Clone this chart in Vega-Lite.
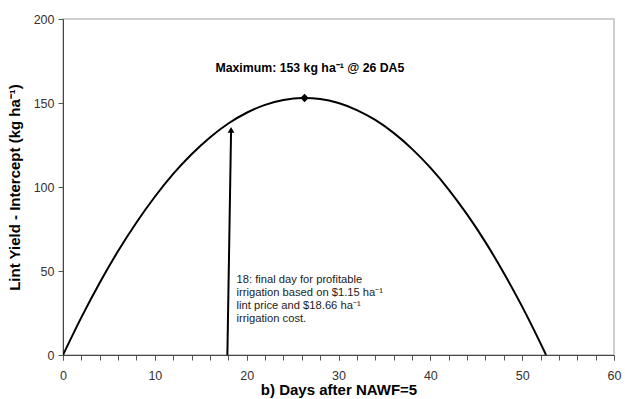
{
  "$schema": "https://vega.github.io/schema/vega-lite/v6.json",
  "width": 551,
  "height": 336,
  "autosize": {"type": "none"},
  "padding": {"left": 63, "top": 19, "right": 11, "bottom": 44},
  "background": "white",
  "config": {
    "view": {"stroke": "#bfbfbf", "strokeWidth": 1.5},
    "font": "Liberation Sans",
    "axis": {"grid": false, "labelFont": "Liberation Sans", "titleFont": "Liberation Sans", "labelFontSize": 12.5, "labelColor": "#333333", "domainColor": "#444444", "tickColor": "#555555", "titleColor": "#000000", "titleFontSize": 15, "titleFontWeight": "bold"}
  },
  "resolve": {"axis": {"x": "independent"}},
  "datasets": {
    "curve": [
      {"day": 0, "yield": 0},
      {"day": 2, "yield": 22.4},
      {"day": 4, "yield": 43.0},
      {"day": 6, "yield": 61.9},
      {"day": 8, "yield": 78.9},
      {"day": 10, "yield": 94.2},
      {"day": 12, "yield": 107.8},
      {"day": 14, "yield": 119.5},
      {"day": 16, "yield": 129.5},
      {"day": 18, "yield": 137.8},
      {"day": 20, "yield": 144.2},
      {"day": 22, "yield": 148.9},
      {"day": 24, "yield": 151.8},
      {"day": 26, "yield": 153.0},
      {"day": 26.3, "yield": 153.0},
      {"day": 28, "yield": 152.4},
      {"day": 30, "yield": 150.0},
      {"day": 32, "yield": 145.8},
      {"day": 34, "yield": 139.9},
      {"day": 36, "yield": 132.2},
      {"day": 38, "yield": 122.7},
      {"day": 40, "yield": 111.5},
      {"day": 42, "yield": 98.5},
      {"day": 44, "yield": 83.7},
      {"day": 46, "yield": 67.2},
      {"day": 48, "yield": 48.8},
      {"day": 50, "yield": 28.8},
      {"day": 52, "yield": 6.9},
      {"day": 52.6, "yield": 0}
    ],
    "peak": [{"day": 26.3, "yield": 153}],
    "arrow": [{"x1": 17.9, "y1": 0, "x2": 18.3, "y2": 133}],
    "head": [{"day": 18.3, "yield": 134}],
    "maxlabel": [{"day": 16.6, "yield": 171, "label": "Maximum: 153 kg ha⁻¹ @ 26 DA5"}],
    "note": [
      {"day": 18.9, "yield": 44.5, "label": "18: final day for profitable"},
      {"day": 18.9, "yield": 36.9, "label": "irrigation based on $1.15 ha⁻¹"},
      {"day": 18.9, "yield": 29.3, "label": "lint price and $18.66 ha⁻¹"},
      {"day": 18.9, "yield": 21.7, "label": "irrigation cost."}
    ]
  },
  "layer": [
    {
      "data": {"name": "curve"},
      "mark": {"type": "point", "opacity": 0},
      "encoding": {
        "x": {"field": "day", "type": "quantitative", "scale": {"domain": [0, 60], "nice": false}, "axis": {"orient": "bottom", "title": null, "values": [0,2,4,6,8,10,12,14,16,18,20,22,24,26,28,30,32,34,36,38,40,42,44,46,48,50,52,54,56,58,60], "labels": false, "domain": false, "tickSize": 5}},
        "y": {"field": "yield", "type": "quantitative", "scale": {"domain": [0, 200], "nice": false}, "axis": {"title": "Lint Yield - Intercept (kg ha⁻¹)", "values": [0, 50, 100, 150, 200], "tickSize": 5, "labelPadding": 4, "titlePadding": 11}}
      }
    },
    {
      "data": {"name": "curve"},
      "mark": {"type": "line", "color": "black", "strokeWidth": 2, "interpolate": "monotone", "clip": true},
      "encoding": {
        "x": {"field": "day", "type": "quantitative", "scale": {"domain": [0, 60], "nice": false}, "axis": {"orient": "bottom", "title": "b) Days after NAWF=5", "values": [0, 10, 20, 30, 40, 50, 60], "labelOverlap": false, "tickSize": 5, "labelPadding": 9, "titlePadding": 1, "labelFlush": false}},
        "y": {"field": "yield", "type": "quantitative"}
      }
    },
    {
      "data": {"name": "peak"},
      "mark": {"type": "point", "shape": "diamond", "filled": true, "color": "black", "size": 70, "opacity": 1},
      "encoding": {"x": {"field": "day", "type": "quantitative", "axis": null}, "y": {"field": "yield", "type": "quantitative"}}
    },
    {
      "data": {"name": "arrow"},
      "mark": {"type": "rule", "color": "black", "strokeWidth": 2},
      "encoding": {"x": {"field": "x1", "type": "quantitative", "axis": null}, "y": {"field": "y1", "type": "quantitative"}, "x2": {"field": "x2"}, "y2": {"field": "y2"}}
    },
    {
      "data": {"name": "head"},
      "mark": {"type": "point", "shape": "triangle-up", "filled": true, "color": "black", "size": 45, "opacity": 1},
      "encoding": {"x": {"field": "day", "type": "quantitative", "axis": null}, "y": {"field": "yield", "type": "quantitative"}}
    },
    {
      "data": {"name": "maxlabel"},
      "mark": {"type": "text", "align": "left", "baseline": "middle", "fontSize": 12.3, "fontWeight": "bold", "color": "black", "font": "Liberation Sans"},
      "encoding": {"x": {"field": "day", "type": "quantitative", "axis": null}, "y": {"field": "yield", "type": "quantitative"}, "text": {"field": "label"}}
    },
    {
      "data": {"name": "note"},
      "mark": {"type": "text", "align": "left", "baseline": "middle", "fontSize": 11.2, "color": "#222222", "font": "Liberation Sans"},
      "encoding": {"x": {"field": "day", "type": "quantitative", "axis": null}, "y": {"field": "yield", "type": "quantitative"}, "text": {"field": "label"}}
    }
  ]
}
